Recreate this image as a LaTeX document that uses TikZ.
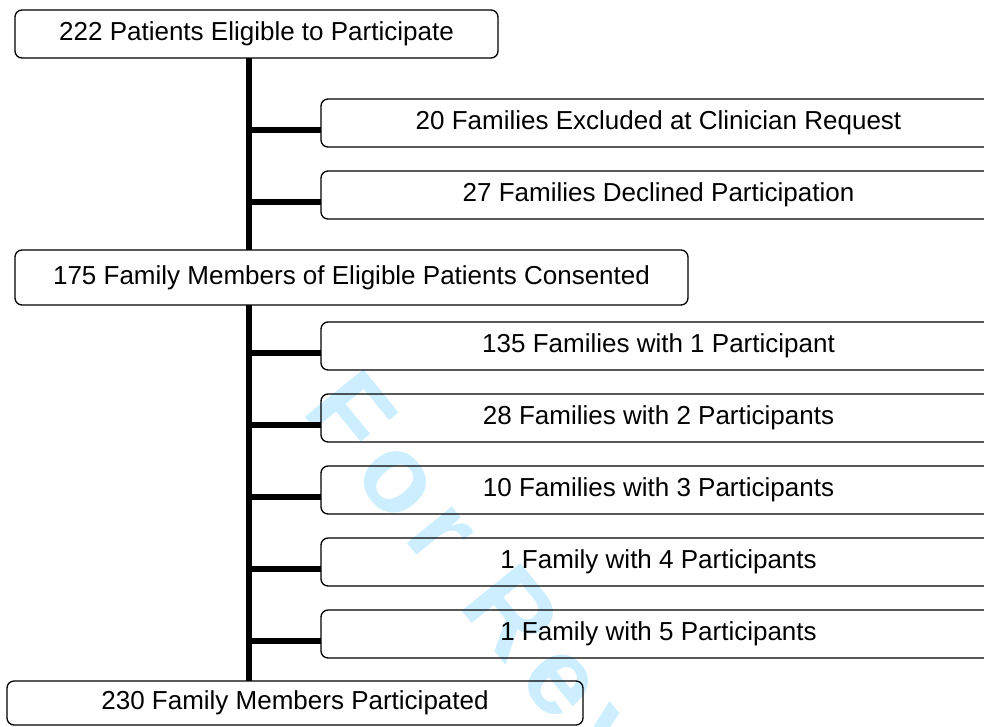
\documentclass[tikz,border=0pt]{standalone}
\usepackage{fontspec}
\setmainfont{Liberation Sans}
\newfontfamily\markfont{Liberation Sans}[LetterSpace=13]
\usepackage{xcolor}
\usepackage{tikz}
\usetikzlibrary{positioning}
\definecolor{markCyan}{HTML}{CCEEFF}
\tikzset{
  stage/.style={draw=black, line width=1.3pt, rounded corners=7pt, outer sep=0pt, inner sep=0pt, font=\fontsize{26}{31}\selectfont, minimum height=48pt, minimum width=#1},
  branch/.style={stage=675pt},
  trunkline/.style={line width=6pt},
  tie/.style={line width=5.5pt},
  watermark/.style={text=markCyan, font=\markfont\bfseries\fontsize{110}{110}\selectfont, inner sep=0pt},
}

\begin{document}
\begin{tikzpicture}[x=1pt, y=-1pt, node distance=24pt]
\useasboundingbox (0,0) rectangle (984,726);
\clip (0,0) rectangle (984,726);
\node[watermark, rotate=-51, anchor=base west] (wm) at (300,411) {For Review Only};
% left column
\node[stage=483pt, anchor=north west] (elig) at (15,10) {222 Patients Eligible to Participate};
\node[stage=673pt, minimum height=55pt, anchor=north west] (cons) at (15,250) {175 Family Members of Eligible Patients Consented};
\node[stage=576pt, minimum height=44pt, anchor=north west] (part) at (7,681) {230 Family Members Participated};
% side boxes
\node[branch, anchor=north west] (excl) at (321,99) {20 Families Excluded at Clinician Request};
\node[branch, below=of excl] (decl) {27 Families Declined Participation};
\node[branch, anchor=north west] (f1) at (321,322) {135 Families with 1 Participant};
\node[branch, below=of f1] (f2) {28 Families with 2 Participants};
\node[branch, below=of f2] (f3) {10 Families with 3 Participants};
\node[branch, below=of f3] (f4) {1 Family with 4 Participants};
\node[branch, below=of f4] (f5) {1 Family with 5 Participants};
% trunk and ties
\coordinate (trunk) at (249,0);
\draw[trunkline] (elig.south -| trunk) -- (cons.north -| trunk);
\draw[trunkline] (cons.south -| trunk) -- (part.north -| trunk);
\foreach \n in {excl,decl,f1,f2,f3,f4,f5} {
  \coordinate (\n-j) at ([yshift=-31pt]\n.north west);
  \draw[tie] (\n-j -| trunk) -- (\n-j);
}
\end{tikzpicture}
\end{document}
